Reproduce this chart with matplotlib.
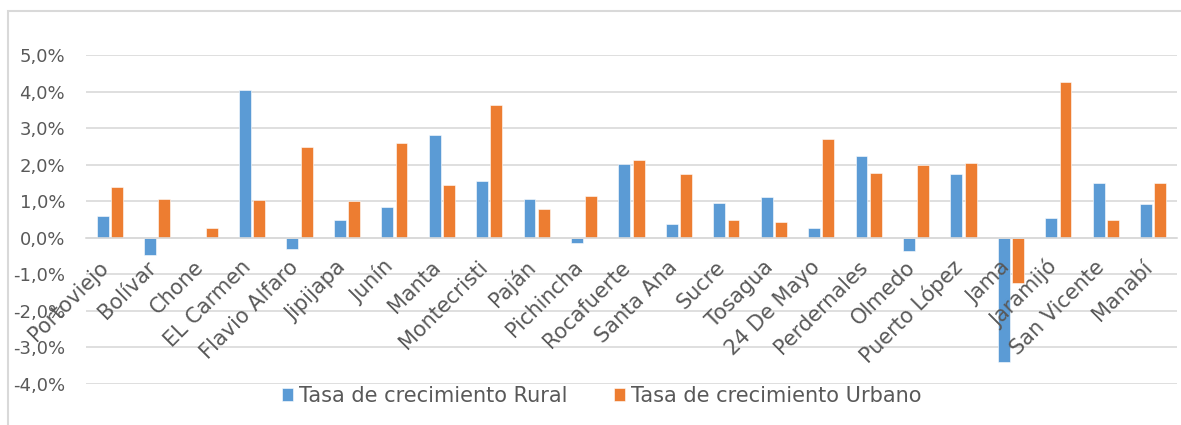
import numpy as np
import matplotlib.pyplot as plt
from matplotlib.patches import Rectangle
from matplotlib.ticker import FuncFormatter

cantones = ["Portoviejo", "Bolívar", "Chone", "EL Carmen", "Flavio Alfaro", "Jipijapa",
            "Junín", "Manta", "Montecristi", "Paján", "Pichincha", "Rocafuerte",
            "Santa Ana", "Sucre", "Tosagua", "24 De Mayo", "Perdernales", "Olmedo",
            "Puerto López", "Jama", "Jaramijó", "San Vicente", "Manabí"]
# growth rates in percent
rural = [0.60, -0.47, 0.0, 4.04, -0.31, 0.49, 0.84, 2.80, 1.55, 1.06, -0.15, 2.01,
         0.39, 0.95, 1.11, 0.27, 2.24, -0.36, 1.75, -3.41, 0.53, 1.49, 0.93]
urbano = [1.38, 1.05, 0.27, 1.02, 2.48, 1.00, 2.59, 1.44, 3.64, 0.80, 1.15, 2.12,
          1.74, 0.49, 0.42, 2.70, 1.76, 2.00, 2.04, -1.23, 4.27, 0.48, 1.50]

blue = "#5B9BD5"
orange = "#ED7D31"
gray = "#595959"

plt.rcParams['font.family'] = ['DejaVu Sans']

fig = plt.figure(figsize=(11.81, 4.25), dpi=100)
ax = fig.add_axes([86/1181, 1 - 384/425, (1177 - 86)/1181, (384 - 55)/425])

x = np.arange(len(cantones))
w = 0.25
ax.bar(x - 0.15, rural, w, color=blue, edgecolor="white", linewidth=0.4,
       label="Tasa de crecimiento Rural", zorder=2)
ax.bar(x + 0.15, urbano, w, color=orange, edgecolor="white", linewidth=0.4,
       label="Tasa de crecimiento Urbano", zorder=2)

ax.set_xlim(-0.5, len(cantones) - 0.5)
ax.set_ylim(-4, 5)
ax.set_yticks(np.arange(-4, 6, 1))
ax.yaxis.set_major_formatter(FuncFormatter(lambda v, p: f"{v:.1f}%".replace(".", ",")))
ax.grid(axis="y", color="#d9d9d9", linewidth=1.2)
ax.set_axisbelow(True)

for s in ["top", "right", "left"]:
    ax.spines[s].set_visible(False)
ax.spines["bottom"].set_position(("data", 0))
ax.spines["bottom"].set_color("#d9d9d9")
ax.spines["bottom"].set_linewidth(1.2)

ax.set_xticks(x)
ax.set_xticklabels(cantones, rotation=45, ha="right", va="baseline", rotation_mode="anchor")
ax.tick_params(axis="x", length=0, pad=22, labelsize=15, labelcolor=gray)
ax.tick_params(axis="y", length=0, pad=15, labelsize=13, labelcolor=gray)
# category names sit on top of the bars
ax.xaxis.set_zorder(5)

leg = ax.legend(loc="center", bbox_to_anchor=(0.4725, -0.036), ncol=2, frameon=False,
                fontsize=15, labelcolor=gray, handlelength=0.55, handleheight=0.55,
                handletextpad=0.25, columnspacing=2.25, borderaxespad=0, borderpad=0)

# chart frame
fig.patches.append(Rectangle((8/1181, -0.1), 1.2, 1 - 11/425 + 0.1,
                             transform=fig.transFigure, fill=False,
                             edgecolor="#d9d9d9", linewidth=1.5))

fig.savefig("out.png", dpi=100)
